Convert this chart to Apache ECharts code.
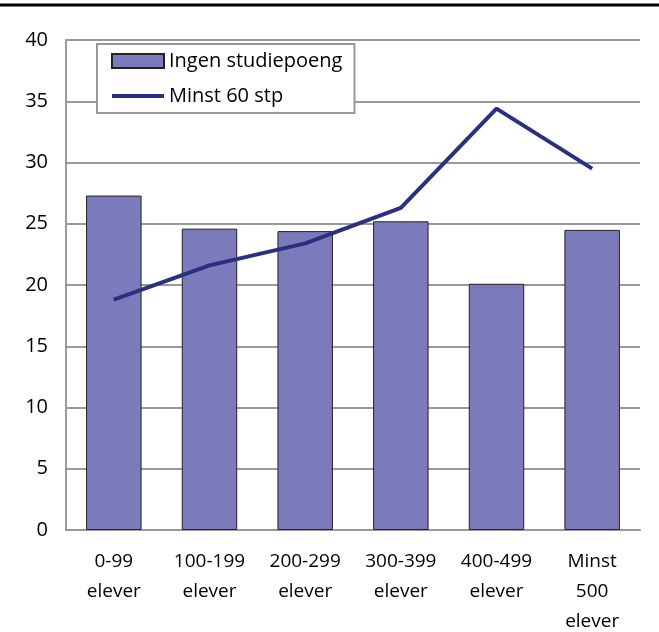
<!DOCTYPE html>
<html>
<head>
    <meta charset="utf-8">
    <title>Studiepoeng etter skolestørrelse</title>
    <script src="https://cdn.jsdelivr.net/npm/echarts@6.0.0/dist/echarts.min.js"></script>
    <style>
        body { margin: 0; background: #fff; }
        #chart { width: 659px; height: 632px; }
    </style>
</head>
<body>
    <div id="chart"></div>
    <script>
        // kategorier og verdier
        var categories = ['0-99\nelever', '100-199\nelever', '200-299\nelever', '300-399\nelever', '400-499\nelever', 'Minst\n500\nelever'];
        var ingenStudiepoeng = [27.3, 24.6, 24.4, 25.2, 20.1, 24.5];
        var minst60 = [18.8, 21.6, 23.4, 26.3, 34.4, 29.5];

        var myChart = echarts.init(document.getElementById('chart'));
        var font = '"Open Sans", "Noto Sans", sans-serif';

        var option = {
            backgroundColor: '#fff',
            animation: false,
            textStyle: { fontFamily: font },
            graphic: [{
                type: 'line',
                shape: { x1: 0, y1: 5, x2: 659, y2: 5 },
                style: { stroke: '#000', lineWidth: 3 }
            }],
            grid: { left: 66, right: 19, top: 40, bottom: 102, containLabel: false, outerBoundsMode: 'none' },
            legend: {
                orient: 'vertical',
                left: 97,
                top: 44,
                padding: [6, 12, 6, 13],
                itemGap: 13,
                itemWidth: 52,
                itemHeight: 14,
                borderColor: '#999',
                borderWidth: 2,
                backgroundColor: '#fff',
                textStyle: { fontSize: 20, color: '#000', fontFamily: font, lineHeight: 22 },
                data: [
                    { name: 'Ingen studiepoeng', icon: 'rect' },
                    { name: 'Minst 60 stp', itemStyle: { opacity: 0 }, lineStyle: { width: 4, color: '#2b2f7f' } }
                ]
            },
            xAxis: {
                type: 'category',
                data: categories,
                axisLine: { lineStyle: { color: '#999', width: 2 } },
                axisTick: { inside: true, length: 5, lineStyle: { color: '#999', width: 2 } },
                axisLabel: { interval: 0, color: '#000', fontSize: 19, lineHeight: 30, margin: 17, fontFamily: font }
            },
            yAxis: {
                type: 'value',
                min: 0,
                max: 40,
                interval: 5,
                axisLine: { show: true, lineStyle: { color: '#999', width: 2 } },
                axisTick: { show: false },
                axisLabel: { color: '#000', fontSize: 20, margin: 18, fontFamily: font },
                splitLine: { lineStyle: { color: '#999', width: 2 } }
            },
            series: [{
                name: 'Ingen studiepoeng',
                type: 'bar',
                data: ingenStudiepoeng,
                barWidth: '58%',
                itemStyle: { color: '#7b7bbb', borderColor: '#222', borderWidth: 1 }
            }, {
                name: 'Minst 60 stp',
                type: 'line',
                data: minst60,
                symbol: 'none',
                lineStyle: { color: '#2b2f7f', width: 4 },
                itemStyle: { color: '#2b2f7f' }
            }]
        };

        myChart.setOption(option);
    </script>
</body>
</html>
